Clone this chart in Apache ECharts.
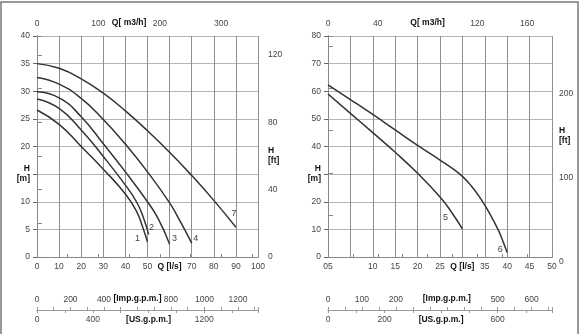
<!DOCTYPE html>
<html><head><meta charset="utf-8">
<script src="https://cdn.jsdelivr.net/npm/echarts@6/dist/echarts.min.js"></script>
<style>html,body{margin:0;padding:0;background:#fff}#c{width:585px;height:334px}</style>
</head><body><div id="c"></div>
<script>
// ---- data: pump curves, [Q l/s, H m] ----
const curve1 = [[0,26.6],[10,24.0],[20,20.0],[30,15.9],[40,11.4],[45,8.3],[48,5.2],[50,2.7]];
const curve2 = [[0,28.6],[10,26.9],[20,23.0],[30,18.2],[40,13.0],[45,10.0],[48,7.3],[50.5,4.1]];
const curve3 = [[0,29.9],[10,28.8],[20,25.4],[30,20.5],[40,15.4],[50,10.0],[55,6.8],[60,2.3]];
const curve4 = [[0,32.5],[10,31.3],[20,28.7],[30,24.9],[40,20.4],[50,15.4],[60,9.8],[65,6.3],[70,2.5]];
const curve7 = [[0,35],[10,34.15],[20,32.25],[30,29.65],[40,26.45],[50,22.85],[60,18.95],[70,14.75],[80,10.25],[90,5.4]];
const curve5 = [[0,59],[5,52],[10,45],[15,37.9],[20,30.3],[25,21.7],[27.5,16.4],[30,10.2]];
const curve6 = [[0,62.3],[5,57.0],[10,51.6],[15,46.0],[20,40.4],[25,35.1],[28,31.8],[30,29.2],[32,25.7],[34,21.3],[36,16.0],[38,9.8],[39,5.9],[40,1.6]];
const curveNames = ['1','2','3','4','7','5','6'];

// ---- tick labels ----
const L_bottom = {0:'0',10:'10',20:'20',30:'30',40:'40',50:'50',60:'{b|Q [l/s]}',70:'70',80:'80',90:'90',100:'100'};
const L_top = {0:'0',100:'100',150:'{b|Q[ m3/h]}',200:'200',300:'300'};
const L_m = {0:'0',5:'5',10:'10',15:'{b|H}\n{b|[m]}',20:'20',25:'25',30:'30',35:'35',40:'40'};
const L_ft = {0:'0',40:'40',60:'{b|H}\n{b|[ft]}',80:'80',120:'120'};
const R_bottom = {0:'05',10:'10',15:'15',20:'20',25:'25',30:'{b|Q [l/s]}',35:'35',40:'40',45:'45',50:'50'};
const R_top = {0:'0',40:'40',80:'{b|Q[ m3/h]}',120:'120',160:'160'};
const R_m = {0:'0',10:'10',20:'20',30:'{b|H}\n{b|[m]}',40:'40',50:'50',60:'60',70:'70',80:'80'};
const R_ft = {0:'0',100:'100',150:'{b|H}\n{b|[ft]}',200:'200'};
const L_imp = {0:'0',200:'200',400:'400',600:'{b|[Imp.g.p.m.]}',800:'800',1000:'1000',1200:'1200'};
const L_us = {0:'0',400:'400',800:'{b|[US.g.p.m.]}',1200:'1200'};
const R_imp = {0:'0',100:'100',200:'200',350:'{b|[Imp.g.p.m.]}',500:'500',600:'600'};
const R_us = {0:'0',200:'200',400:'{b|[US.g.p.m.]}',600:'600'};

// unit conversions for secondary scales
const M3H = 3.6, IMP = 13.198, USG = 15.850, FT = 1/0.3048;

const FONT = 'Liberation Sans, Arial, sans-serif';
const rich = {b:{fontWeight:'bold',fontSize:8.5,color:'#111',fontFamily:FONT,lineHeight:10}};
function lab(map, extra){ return Object.assign({fontSize:8.5,color:'#444',fontFamily:FONT,rich:rich,
  formatter:v=>{const k=Math.round(v*100)/100; return map[k]!==undefined?map[k]:'';}}, extra||{}); }
const dark = {lineStyle:{color:'#444',width:1}};
const grey = {lineStyle:{color:'#888',width:1}};

function xa(o){ return Object.assign({type:'value',splitLine:{show:false},axisTick:{show:false}},o); }

const chart = echarts.init(document.getElementById('c'),null,{renderer:'canvas'});
const lines = [curve1,curve2,curve3,curve4,curve7,curve5,curve6];
const gridOf = [0,0,0,0,0,1,1];
const offs = [[-10,-4],[3,-7],[5,-6],[4,-5],[-2,-14],[-17,-11],[-7,-3]];
const series = lines.map((d,i)=>({
  type:'line', data:d, smooth:0.5, showSymbol:false, symbol:'none',
  xAxisIndex: gridOf[i]===0?0:2, yAxisIndex: gridOf[i]===0?0:2,
  lineStyle:{color:'#333',width:1.5}, silent:true,
  endLabel:{show:true, formatter:curveNames[i], distance:0, offset:offs[i], align:'center', verticalAlign:'middle',
    fontSize:9, color:'#444', fontFamily:FONT}
}));

chart.setOption({
  animation:false,
  backgroundColor:'#fff',
  grid:[
    {left:37,top:36,width:221,height:221},
    {left:328,top:36,width:224,height:221},
    {left:37,top:309,width:221,height:1},
    {left:328,top:309,width:224,height:1}
  ],
  xAxis:[
    xa({gridIndex:0,position:'bottom',min:0,max:100,interval:10,axisLine:dark,
        splitLine:{show:true,lineStyle:{color:'#8f8f8f',width:1}},axisLabel:lab(L_bottom,{margin:5})}),
    xa({gridIndex:0,position:'top',min:0,max:100*M3H,interval:50,axisLine:grey,
        axisTick:{show:true,length:3,lineStyle:{color:'#888'}},axisLabel:lab(L_top,{margin:8})}),
    xa({gridIndex:1,position:'bottom',min:0,max:50,interval:5,axisLine:dark,
        splitLine:{show:true,lineStyle:{color:'#8f8f8f',width:1}},axisLabel:lab(R_bottom,{margin:5})}),
    xa({gridIndex:1,position:'top',min:0,max:50*M3H,interval:20,axisLine:grey,
        axisTick:{show:true,length:3,lineStyle:{color:'#888'}},axisLabel:lab(R_top,{margin:8})}),
    xa({gridIndex:2,position:'top',min:0,max:100*IMP,interval:100,axisLine:{lineStyle:{color:'#999',width:1}},
        axisTick:{show:true,length:3,lineStyle:{color:'#999'}},axisLabel:lab(L_imp,{margin:5})}),
    xa({gridIndex:2,position:'bottom',min:0,max:100*USG,interval:200,axisLine:{lineStyle:{color:'#999',width:1}},
        axisTick:{show:true,length:3,lineStyle:{color:'#999'}},axisLabel:lab(L_us,{margin:5})}),
    xa({gridIndex:3,position:'top',min:0,max:50*IMP,interval:50,axisLine:{lineStyle:{color:'#999',width:1}},
        axisTick:{show:true,length:3,lineStyle:{color:'#999'}},axisLabel:lab(R_imp,{margin:5})}),
    xa({gridIndex:3,position:'bottom',min:0,max:50*USG,interval:100,axisLine:{lineStyle:{color:'#999',width:1}},
        axisTick:{show:true,length:3,lineStyle:{color:'#999'}},axisLabel:lab(R_us,{margin:5})})
  ],
  yAxis:[
    xa({gridIndex:0,position:'left',min:0,max:40,interval:5,axisLine:{show:true,...dark},
        axisTick:{show:true,length:4,lineStyle:{color:'#666'}},
        splitLine:{show:true,lineStyle:{color:'#b5b5b5',width:1}},axisLabel:lab(L_m,{margin:7,align:'right'})}),
    xa({gridIndex:0,position:'right',min:0,max:40*FT,interval:20,axisLine:{show:true,...grey},
        axisTick:{show:true,length:5,lineStyle:{color:'#888'}},axisLabel:lab(L_ft,{margin:10,align:'left'})}),
    xa({gridIndex:1,position:'left',min:0,max:80,interval:10,axisLine:{show:true,...dark},
        axisTick:{show:true,length:4,lineStyle:{color:'#666'}},
        splitLine:{show:true,lineStyle:{color:'#b5b5b5',width:1}},axisLabel:lab(R_m,{margin:7,align:'right'})}),
    xa({gridIndex:1,position:'right',min:0,max:80*FT,interval:50,axisLine:{show:true,...grey},
        axisTick:{show:true,length:5,lineStyle:{color:'#888'}},axisLabel:lab(R_ft,{margin:7,align:'left',padding:[10,0,0,0]})}),
    {type:'value',gridIndex:2,show:false},
    {type:'value',gridIndex:3,show:false}
  ],
  graphic:[{type:'polyline',silent:true,shape:{points:[[1,340],[1,2],[578,2],[578,340]]},
    style:{stroke:'#777',lineWidth:1.5,fill:null}}],
  series: series
});
</script></body></html>
